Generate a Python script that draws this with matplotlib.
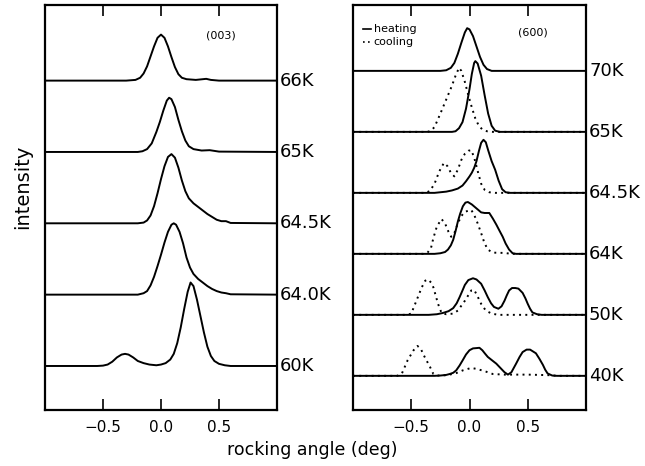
import matplotlib
matplotlib.use("Agg")
import matplotlib.pyplot as plt
import matplotlib.transforms as mtransforms

plt.rcParams['font.family'] = ['DejaVu Sans']

# ---------------- data ----------------
# x: rocking angle (deg); y: intensity above each trace's baseline (panel spacing = 1)
left_labels = ["66K", "65K", "64.5K", "64.0K", "60K"]

l66_x = [-1.0, -0.3, -0.22, -0.18, -0.15, -0.12, -0.09, -0.06, -0.03, 0.0, 0.03, 0.06, 0.09, 0.12, 0.15, 0.18, 0.22, 0.3, 0.36, 0.39, 0.43, 0.5, 1.0]
l66_y = [0, 0, 0.01, 0.04, 0.10, 0.20, 0.34, 0.48, 0.60, 0.645, 0.60, 0.48, 0.33, 0.19, 0.09, 0.04, 0.02, 0.01, 0.02, 0.025, 0.01, 0, 0]

l65_x = [-1.0, -0.2, -0.16, -0.12, -0.08, -0.04, -0.01, 0.02, 0.05, 0.07, 0.09, 0.12, 0.15, 0.18, 0.21, 0.24, 0.28, 0.35, 0.42, 0.5, 1.0]
l65_y = [0, 0, 0.01, 0.04, 0.12, 0.28, 0.42, 0.58, 0.72, 0.76, 0.74, 0.63, 0.45, 0.29, 0.16, 0.08, 0.04, 0.02, 0.025, 0.005, 0]

l645_x = [-1.0, -0.2, -0.15, -0.12, -0.09, -0.06, -0.03, 0.0, 0.03, 0.06, 0.09, 0.12, 0.15, 0.18, 0.21, 0.24, 0.28, 0.32, 0.36, 0.40, 0.44, 0.48, 0.52, 0.56, 0.6, 1.0]
l645_y = [0, 0, 0.01, 0.04, 0.11, 0.24, 0.42, 0.62, 0.80, 0.93, 0.97, 0.92, 0.78, 0.60, 0.45, 0.35, 0.28, 0.23, 0.18, 0.13, 0.09, 0.05, 0.03, 0.03, 0.005, 0]

l640_x = [-1.0, -0.2, -0.15, -0.12, -0.09, -0.06, -0.03, 0.0, 0.03, 0.06, 0.09, 0.11, 0.13, 0.16, 0.19, 0.22, 0.25, 0.28, 0.32, 0.36, 0.40, 0.44, 0.48, 0.52, 0.56, 0.6, 1.0]
l640_y = [0, 0, 0.02, 0.05, 0.13, 0.25, 0.40, 0.56, 0.73, 0.88, 0.98, 1.0, 0.98, 0.88, 0.72, 0.52, 0.38, 0.29, 0.22, 0.17, 0.12, 0.08, 0.05, 0.03, 0.02, 0.005, 0]

l60_x = [-1.0, -0.55, -0.5, -0.46, -0.42, -0.38, -0.34, -0.31, -0.28, -0.24, -0.2, -0.15, -0.1, -0.04, 0.0, 0.04, 0.08, 0.11, 0.14, 0.17, 0.20, 0.23, 0.255, 0.28, 0.31, 0.34, 0.37, 0.40, 0.43, 0.46, 0.5, 0.55, 0.6, 1.0]
l60_y = [0, 0, 0.005, 0.02, 0.06, 0.12, 0.16, 0.17, 0.16, 0.12, 0.07, 0.04, 0.02, 0.01, 0.02, 0.04, 0.09, 0.17, 0.32, 0.54, 0.80, 1.04, 1.17, 1.12, 0.93, 0.70, 0.47, 0.27, 0.14, 0.07, 0.03, 0.01, 0, 0]

right_labels = ["70K", "65K", "64.5K", "64K", "50K", "40K"]

h70_x = [-1.0, -0.25, -0.2, -0.16, -0.13, -0.10, -0.07, -0.04, -0.02, 0.0, 0.03, 0.06, 0.09, 0.12, 0.15, 0.19, 1.0]
h70_y = [0, 0, 0.01, 0.05, 0.13, 0.28, 0.46, 0.63, 0.70, 0.68, 0.57, 0.40, 0.23, 0.10, 0.03, 0, 0]

h65_x = [-1.0, -0.15, -0.12, -0.09, -0.06, -0.03, 0.0, 0.02, 0.04, 0.05, 0.07, 0.10, 0.13, 0.16, 0.19, 0.22, 0.26, 1.0]
h65_y = [0, 0, 0.01, 0.06, 0.16, 0.38, 0.70, 0.95, 1.13, 1.16, 1.12, 0.92, 0.60, 0.30, 0.10, 0.02, 0, 0]
c65_x = [-1.0, -0.36, -0.33, -0.30, -0.25, -0.2, -0.15, -0.12, -0.09, -0.07, -0.04, -0.01, 0.02, 0.05, 0.08, 0.11, 0.15, 0.2, 1.0]
c65_y = [0, 0, 0.02, 0.08, 0.30, 0.53, 0.76, 0.92, 1.05, 1.00, 0.82, 0.60, 0.40, 0.22, 0.10, 0.04, 0.01, 0, 0]

h645_x = [-1.0, -0.3, -0.25, -0.2, -0.15, -0.1, -0.06, -0.03, 0.0, 0.02, 0.04, 0.06, 0.08, 0.10, 0.12, 0.14, 0.16, 0.19, 0.22, 0.25, 0.28, 0.31, 0.35, 1.0]
h645_y = [0, 0, 0.01, 0.02, 0.04, 0.07, 0.12, 0.19, 0.27, 0.33, 0.41, 0.52, 0.68, 0.82, 0.87, 0.83, 0.70, 0.52, 0.38, 0.20, 0.06, 0.01, 0, 0]
c645_x = [-1.0, -0.38, -0.34, -0.30, -0.26, -0.22, -0.19, -0.16, -0.13, -0.10, -0.07, -0.04, -0.01, 0.015, 0.04, 0.07, 0.10, 0.13, 0.17, 0.22, 1.0]
c645_y = [0, 0, 0.03, 0.15, 0.35, 0.49, 0.44, 0.33, 0.27, 0.38, 0.54, 0.64, 0.69, 0.70, 0.58, 0.36, 0.15, 0.05, 0.01, 0, 0]

h64_x = [-1.0, -0.3, -0.25, -0.21, -0.185, -0.16, -0.14, -0.12, -0.10, -0.08, -0.057, -0.035, -0.014, 0.02, 0.057, 0.1, 0.13, 0.17, 0.2, 0.23, 0.26, 0.285, 0.31, 0.34, 0.37, 0.4, 1.0]
h64_y = [0, 0, 0.01, 0.03, 0.07, 0.14, 0.23, 0.37, 0.53, 0.66, 0.78, 0.84, 0.85, 0.81, 0.75, 0.68, 0.67, 0.67, 0.58, 0.48, 0.37, 0.28, 0.17, 0.07, 0.01, 0, 0]
c64_x = [-1.0, -0.4, -0.36, -0.33, -0.31, -0.28, -0.24, -0.21, -0.18, -0.157, -0.13, -0.10, -0.07, -0.04, 0.015, 0.04, 0.07, 0.1, 0.128, 0.157, 0.2, 0.3, 0.36, 1.0]
c64_y = [0, 0, 0.02, 0.10, 0.26, 0.45, 0.57, 0.50, 0.36, 0.28, 0.34, 0.50, 0.62, 0.69, 0.72, 0.64, 0.50, 0.34, 0.18, 0.07, 0.02, 0.015, 0, 0]

h50_x = [-1.0, -0.35, -0.28, -0.23, -0.18, -0.14, -0.11, -0.085, -0.06, -0.04, -0.01, 0.03, 0.06, 0.1, 0.13, 0.157, 0.185, 0.21, 0.248, 0.275, 0.3, 0.32, 0.34, 0.365, 0.393, 0.42, 0.456, 0.48, 0.5, 0.52, 0.54, 0.58, 0.62, 1.0]
h50_y = [0, 0, 0.01, 0.03, 0.06, 0.11, 0.19, 0.29, 0.40, 0.49, 0.57, 0.60, 0.58, 0.51, 0.40, 0.29, 0.19, 0.13, 0.10, 0.14, 0.23, 0.32, 0.40, 0.44, 0.44, 0.43, 0.36, 0.27, 0.18, 0.10, 0.04, 0.01, 0, 0]
c50_x = [-1.0, -0.54, -0.5, -0.456, -0.41, -0.38, -0.356, -0.33, -0.31, -0.27, -0.24, -0.2, -0.14, -0.1, -0.04, 0.015, 0.04, 0.07, 0.1, 0.14, 0.19, 0.25, 1.0]
c50_y = [0, 0, 0.02, 0.23, 0.45, 0.56, 0.58, 0.53, 0.45, 0.18, 0.03, 0.01, 0.02, 0.07, 0.23, 0.40, 0.41, 0.30, 0.18, 0.07, 0.02, 0, 0]

h40_x = [-1.0, -0.3, -0.25, -0.2, -0.17, -0.14, -0.114, -0.085, -0.057, -0.03, 0.0, 0.03, 0.06, 0.085, 0.11, 0.135, 0.157, 0.19, 0.23, 0.27, 0.3, 0.33, 0.36, 0.4, 0.43, 0.456, 0.49, 0.52, 0.57, 0.6, 0.63, 0.65, 0.67, 0.71, 0.75, 1.0]
h40_y = [0, 0, 0.005, 0.015, 0.03, 0.05, 0.09, 0.17, 0.26, 0.35, 0.42, 0.45, 0.455, 0.46, 0.42, 0.36, 0.31, 0.26, 0.20, 0.12, 0.06, 0.02, 0.06, 0.20, 0.31, 0.39, 0.43, 0.43, 0.37, 0.28, 0.18, 0.10, 0.04, 0.005, 0, 0]
c40_x = [-1.0, -0.62, -0.58, -0.53, -0.48, -0.447, -0.42, -0.385, -0.34, -0.31, -0.27, -0.2, -0.12, -0.057, 0.015, 0.07, 0.14, 0.2, 0.3, 0.5, 0.7, 0.75, 1.0]
c40_y = [0, 0, 0.04, 0.26, 0.42, 0.49, 0.45, 0.31, 0.15, 0.03, 0.005, 0.01, 0.04, 0.09, 0.13, 0.11, 0.07, 0.03, 0.02, 0.02, 0.01, 0, 0]

left_curves = [(l66_x, l66_y), (l65_x, l65_y), (l645_x, l645_y), (l640_x, l640_y), (l60_x, l60_y)]
right_heating = [(h70_x, h70_y), (h65_x, h65_y), (h645_x, h645_y), (h64_x, h64_y), (h50_x, h50_y), (h40_x, h40_y)]
right_cooling = [None, (c65_x, c65_y), (c645_x, c645_y), (c64_x, c64_y), (c50_x, c50_y), (c40_x, c40_y)]

xticks = [-0.5, 0.0, 0.5]
xticklabels = ["\u22120.5", "0.0", "0.5"]

# ---------------- figure ----------------
fig = plt.figure(figsize=(6.45, 4.66), dpi=100)
axL = fig.add_axes([45 / 645, 56 / 466, 232 / 645, 405 / 466])
axR = fig.add_axes([353 / 645, 56 / 466, 233 / 645, 405 / 466])

LW = 1.4
dotted = (0, (1.0, 2.2))

nL = len(left_curves)
for i, (xs, ys) in enumerate(left_curves):
    off = nL - 1 - i
    axL.plot(xs, [v + off for v in ys], color='black', lw=LW, solid_joinstyle='round')
    axL.text(1.013, off, left_labels[i], transform=mtransforms.blended_transform_factory(axL.transAxes, axL.transData),
             ha='left', va='center', fontsize=13, clip_on=False)
axL.set_ylim(-0.617, 5.06)

nR = len(right_heating)
for i in range(nR):
    off = nR - 1 - i
    xs, ys = right_heating[i]
    axR.plot(xs, [v + off for v in ys], color='black', lw=LW, solid_joinstyle='round')
    if right_cooling[i] is not None:
        cx, cy = right_cooling[i]
        axR.plot(cx, [v + off for v in cy], color='black', lw=LW, linestyle=dotted)
    axR.text(1.013, off, right_labels[i], transform=mtransforms.blended_transform_factory(axR.transAxes, axR.transData),
             ha='left', va='center', fontsize=13, clip_on=False)
axR.set_ylim(-0.56, 6.08)

for ax in (axL, axR):
    ax.set_xlim(-1.0, 1.0)
    ax.set_xticks(xticks)
    ax.set_xticklabels(xticklabels, fontsize=11)
    ax.set_yticks([])
    ax.tick_params(axis='x', direction='in', top=True, bottom=True, length=8, width=1.2, pad=7)
    for s in ax.spines.values():
        s.set_linewidth(1.6)

axL.text(0.76, 0.925, "(003)", transform=axL.transAxes, ha='center', va='center', fontsize=8)
axR.text(0.77, 0.932, "(600)", transform=axR.transAxes, ha='center', va='center', fontsize=8)

# legend (drawn manually)
axR.plot([0.045, 0.078], [0.94, 0.94], transform=axR.transAxes, color='black', lw=1.2)
axR.plot([0.045, 0.078], [0.908, 0.908], transform=axR.transAxes, color='black', lw=1.2, linestyle=(0, (1, 2)))
axR.text(0.088, 0.94, "heating", transform=axR.transAxes, ha='left', va='center', fontsize=8)
axR.text(0.088, 0.908, "cooling", transform=axR.transAxes, ha='left', va='center', fontsize=8)

fig.text(23 / 645, 1 - 187 / 466, "intensity", rotation=90, ha='center', va='center', fontsize=14)
fig.text(312 / 645, 1 - 450 / 466, "rocking angle (deg)", ha='center', va='center', fontsize=12.5)

fig.savefig("out.png", dpi=100)
